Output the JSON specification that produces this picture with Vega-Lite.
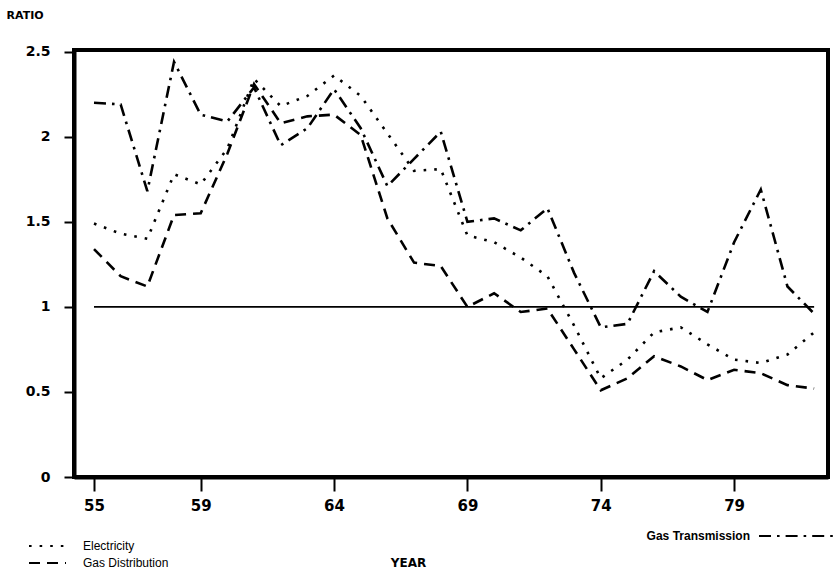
{
  "$schema": "https://vega.github.io/schema/vega-lite/v6.json",
  "width": 754,
  "height": 427,
  "autosize": {"type": "none"},
  "padding": {"left": 74, "top": 50, "right": 6, "bottom": 93},
  "background": "white",
  "config": {
    "view": {"stroke": "black", "strokeWidth": 4},
    "font": "DejaVu Sans",
    "axis": {"grid": false, "domainColor": "black", "tickColor": "black", "labelColor": "black", "titleColor": "black"}
  },
  "datasets": {
    "ratios": [
      {"year": 55, "series": "Electricity", "value": 1.49},
      {"year": 56, "series": "Electricity", "value": 1.43},
      {"year": 57, "series": "Electricity", "value": 1.40},
      {"year": 58, "series": "Electricity", "value": 1.78},
      {"year": 59, "series": "Electricity", "value": 1.72},
      {"year": 60, "series": "Electricity", "value": 1.93},
      {"year": 61, "series": "Electricity", "value": 2.34},
      {"year": 62, "series": "Electricity", "value": 2.18},
      {"year": 63, "series": "Electricity", "value": 2.24},
      {"year": 64, "series": "Electricity", "value": 2.36},
      {"year": 65, "series": "Electricity", "value": 2.24},
      {"year": 66, "series": "Electricity", "value": 2.02},
      {"year": 67, "series": "Electricity", "value": 1.80},
      {"year": 68, "series": "Electricity", "value": 1.81},
      {"year": 69, "series": "Electricity", "value": 1.42},
      {"year": 70, "series": "Electricity", "value": 1.38},
      {"year": 71, "series": "Electricity", "value": 1.29},
      {"year": 72, "series": "Electricity", "value": 1.18},
      {"year": 73, "series": "Electricity", "value": 0.89},
      {"year": 74, "series": "Electricity", "value": 0.58},
      {"year": 75, "series": "Electricity", "value": 0.69},
      {"year": 76, "series": "Electricity", "value": 0.85},
      {"year": 77, "series": "Electricity", "value": 0.88},
      {"year": 78, "series": "Electricity", "value": 0.78},
      {"year": 79, "series": "Electricity", "value": 0.69},
      {"year": 80, "series": "Electricity", "value": 0.67},
      {"year": 81, "series": "Electricity", "value": 0.72},
      {"year": 82, "series": "Electricity", "value": 0.85},
      {"year": 55, "series": "Gas Distribution", "value": 1.34},
      {"year": 56, "series": "Gas Distribution", "value": 1.18},
      {"year": 57, "series": "Gas Distribution", "value": 1.12},
      {"year": 58, "series": "Gas Distribution", "value": 1.54},
      {"year": 59, "series": "Gas Distribution", "value": 1.55},
      {"year": 60, "series": "Gas Distribution", "value": 1.90},
      {"year": 61, "series": "Gas Distribution", "value": 2.31},
      {"year": 62, "series": "Gas Distribution", "value": 2.08},
      {"year": 63, "series": "Gas Distribution", "value": 2.12},
      {"year": 64, "series": "Gas Distribution", "value": 2.13},
      {"year": 65, "series": "Gas Distribution", "value": 2.01},
      {"year": 66, "series": "Gas Distribution", "value": 1.52},
      {"year": 67, "series": "Gas Distribution", "value": 1.26},
      {"year": 68, "series": "Gas Distribution", "value": 1.24},
      {"year": 69, "series": "Gas Distribution", "value": 1.00},
      {"year": 70, "series": "Gas Distribution", "value": 1.08},
      {"year": 71, "series": "Gas Distribution", "value": 0.97},
      {"year": 72, "series": "Gas Distribution", "value": 0.99},
      {"year": 73, "series": "Gas Distribution", "value": 0.75},
      {"year": 74, "series": "Gas Distribution", "value": 0.51},
      {"year": 75, "series": "Gas Distribution", "value": 0.58},
      {"year": 76, "series": "Gas Distribution", "value": 0.71},
      {"year": 77, "series": "Gas Distribution", "value": 0.65},
      {"year": 78, "series": "Gas Distribution", "value": 0.57},
      {"year": 79, "series": "Gas Distribution", "value": 0.63},
      {"year": 80, "series": "Gas Distribution", "value": 0.61},
      {"year": 81, "series": "Gas Distribution", "value": 0.54},
      {"year": 82, "series": "Gas Distribution", "value": 0.52},
      {"year": 55, "series": "Gas Transmission", "value": 2.20},
      {"year": 56, "series": "Gas Transmission", "value": 2.19},
      {"year": 57, "series": "Gas Transmission", "value": 1.68},
      {"year": 58, "series": "Gas Transmission", "value": 2.44},
      {"year": 59, "series": "Gas Transmission", "value": 2.13},
      {"year": 60, "series": "Gas Transmission", "value": 2.09},
      {"year": 61, "series": "Gas Transmission", "value": 2.29},
      {"year": 62, "series": "Gas Transmission", "value": 1.95},
      {"year": 63, "series": "Gas Transmission", "value": 2.05},
      {"year": 64, "series": "Gas Transmission", "value": 2.28},
      {"year": 65, "series": "Gas Transmission", "value": 2.05},
      {"year": 66, "series": "Gas Transmission", "value": 1.71},
      {"year": 67, "series": "Gas Transmission", "value": 1.87},
      {"year": 68, "series": "Gas Transmission", "value": 2.03},
      {"year": 69, "series": "Gas Transmission", "value": 1.50},
      {"year": 70, "series": "Gas Transmission", "value": 1.52},
      {"year": 71, "series": "Gas Transmission", "value": 1.45},
      {"year": 72, "series": "Gas Transmission", "value": 1.58},
      {"year": 73, "series": "Gas Transmission", "value": 1.20},
      {"year": 74, "series": "Gas Transmission", "value": 0.88},
      {"year": 75, "series": "Gas Transmission", "value": 0.90},
      {"year": 76, "series": "Gas Transmission", "value": 1.21},
      {"year": 77, "series": "Gas Transmission", "value": 1.06},
      {"year": 78, "series": "Gas Transmission", "value": 0.97},
      {"year": 79, "series": "Gas Transmission", "value": 1.38},
      {"year": 80, "series": "Gas Transmission", "value": 1.69},
      {"year": 81, "series": "Gas Transmission", "value": 1.12},
      {"year": 82, "series": "Gas Transmission", "value": 0.96}
    ],
    "ref": [
      {"year": 55, "value": 1},
      {"year": 82, "value": 1}
    ]
  },
  "layer": [
    {
      "data": {"name": "ref"},
      "mark": {"type": "line", "color": "black", "strokeWidth": 1.8},
      "encoding": {
        "x": {
          "field": "year", "type": "quantitative",
          "scale": {"domain": [54.25, 82.52], "nice": false, "zero": false},
          "axis": {
            "values": [55, 59, 64, 69, 74, 79], "format": "d",
            "title": "YEAR", "titleX": 334, "titleY": 85, "titleAlign": "center", "titleBaseline": "middle",
            "titleFontSize": 12, "titleFontWeight": "bold", "titleFont": "DejaVu Sans",
            "tickSize": 14, "tickWidth": 2, "domainWidth": 4,
            "labelFontSize": 15, "labelFontWeight": "bold", "labelPadding": 7, "labelFont": "DejaVu Sans"
          }
        },
        "y": {
          "field": "value", "type": "quantitative",
          "scale": {"domain": [0, 2.51], "nice": false},
          "axis": {
            "values": [0, 0.5, 1, 1.5, 2, 2.5], "format": ".2~f",
            "title": "RATIO", "titleAngle": 0, "titleX": -68, "titleY": -35, "titleAlign": "left", "titleBaseline": "middle",
            "titleFontSize": 11, "titleFontWeight": "bold", "titleFont": "DejaVu Sans",
            "tickSize": 10, "tickWidth": 2, "domainWidth": 4,
            "labelFontSize": 14, "labelFontWeight": "bold", "labelPadding": 14, "labelFont": "DejaVu Sans"
          }
        }
      }
    },
    {
      "data": {"name": "ratios"},
      "transform": [{"filter": {"field": "series", "oneOf": ["Electricity", "Gas Distribution"]}}],
      "mark": {"type": "line", "color": "black", "strokeWidth": 2.6},
      "encoding": {
        "x": {"field": "year", "type": "quantitative"},
        "y": {"field": "value", "type": "quantitative"},
        "strokeDash": {
          "field": "series", "type": "nominal",
          "scale": {"domain": ["Electricity", "Gas Distribution"], "range": [[2.6, 8], [11, 7]]},
          "legend": {
            "orient": "none", "legendX": -46, "legendY": 489, "title": null,
            "symbolType": "stroke", "symbolSize": 1369, "symbolStrokeWidth": 2, "symbolStrokeColor": "black",
            "labelFont": "Liberation Sans", "labelFontSize": 12, "labelColor": "black", "labelOffset": 16,
            "rowPadding": 3, "clipHeight": 14
          }
        }
      }
    },
    {
      "data": {"name": "ratios"},
      "transform": [{"filter": {"field": "series", "equal": "Gas Transmission"}}],
      "mark": {"type": "line", "color": "black", "strokeWidth": 2.6},
      "encoding": {
        "x": {"field": "year", "type": "quantitative"},
        "y": {"field": "value", "type": "quantitative"},
        "strokeDash": {
          "field": "series", "type": "nominal",
          "scale": {"domain": ["Gas Transmission"], "range": [[12, 6, 2.6, 6]]},
          "legend": {
            "orient": "none", "legendX": 684, "legendY": 448, "title": null,
            "symbolType": "stroke", "symbolSize": 5476, "symbolStrokeWidth": 2, "symbolStrokeColor": "black",
            "labelFont": "Liberation Sans", "labelFontSize": 12, "labelFontWeight": "bold", "labelColor": "black",
            "labelAlign": "right", "labelOffset": -84
          }
        }
      }
    }
  ],
  "resolve": {"scale": {"strokeDash": "independent"}, "legend": {"strokeDash": "independent"}}
}
